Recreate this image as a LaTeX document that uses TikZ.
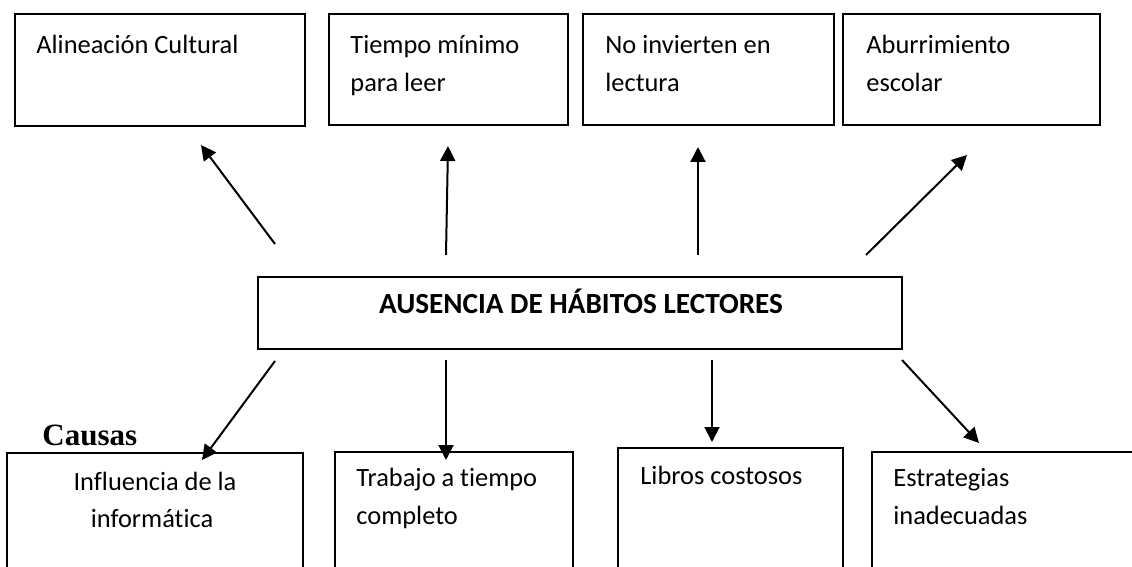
\documentclass[tikz,border=0pt]{standalone}
\usepackage{fontspec}
\setmainfont[Ligatures=NoCommon]{Carlito}
\newfontfamily\timesf{Liberation Serif}
\usetikzlibrary{arrows.meta,fit}
\begin{document}
\begin{tikzpicture}[x=0.5pt,y=-0.5pt,
  box/.style={draw=black,line width=0.8pt,rectangle,inner sep=0pt},
  txt/.style={inner sep=0pt,font=\fontsize{13.2}{16}\selectfont},
  arr/.style={line width=1pt,-{Triangle[length=7.5pt,width=7.5pt]}}]
\useasboundingbox (0,0) rectangle (1132,567);
\clip (0,0) rectangle (1132,567);
\fill[white] (0,0) rectangle (1132,567);
% top boxes
\node[box,fit={(15,14)(305,126)}] (t1) {};
\node[box,fit={(329,14)(568,125)}] (t2) {};
\node[box,fit={(583,14)(834,125)}] (t3) {};
\node[box,fit={(843,14)(1100,125)}] (t4) {};
\node[txt,anchor=base west] (t1a) at (36,54) {Alineación Cultural};
\node[txt,anchor=base west] (t2a) at (350,54) {Tiempo mínimo};
\node[txt,anchor=base west] (t2b) at (350,92) {para leer};
\node[txt,anchor=base west] (t3a) at (605,54) {No invierten en};
\node[txt,anchor=base west] (t3b) at (605,92) {lectura};
\node[txt,anchor=base west] (t4a) at (866,54) {Aburrimiento};
\node[txt,anchor=base west] (t4b) at (866,92) {escolar};
% centre
\node[box,fit={(258,277)(902,349)}] (c) {};
\node[inner sep=0pt,anchor=base,font=\fontsize{14.6}{17}\selectfont\bfseries] (ct) at (581,314) {AUSENCIA DE HÁBITOS LECTORES};
% bottom boxes
\node[box,fit={(7,453)(303,600)}] (b1) {};
\node[box,fit={(335,452)(573,600)}] (b2) {};
\node[box,fit={(618,448)(843,600)}] (b3) {};
\node[box,fit={(872,452)(1140,600)}] (b4) {};
\node[txt,anchor=base] (b1a) at (155,490) {Influencia de la};
\node[txt,anchor=base] (b1b) at (152,527) {informática};
\node[txt,anchor=base west] (b2a) at (356,487) {Trabajo a tiempo};
\node[txt,anchor=base west] (b2b) at (356,524) {completo};
\node[txt,anchor=base west] (b3a) at (640,484) {Libros costosos};
\node[txt,anchor=base west] (b4a) at (893,487) {Estrategias};
\node[txt,anchor=base west] (b4b) at (893,524) {inadecuadas};
\node[inner sep=0pt,anchor=base west,font=\timesf\fontsize{15.5}{18}\selectfont\bfseries] (causas) at (42,445) {Causas};
% arrow end points
\coordinate (a1s) at (275,244); \coordinate (a1e) at (201,145);
\coordinate (a2s) at (446,255); \coordinate (a2e) at (448,146);
\coordinate (a3s) at (698,255); \coordinate (a3e) at (698,147);
\coordinate (a4s) at (866,255); \coordinate (a4e) at (967,155);
\coordinate (d1s) at (275,361); \coordinate (d1e) at (202,460);
\coordinate (d2s) at (446,360); \coordinate (d2e) at (446,460);
\coordinate (d3s) at (712,360); \coordinate (d3e) at (712,442);
\coordinate (d4s) at (902,360); \coordinate (d4e) at (979,443);
\foreach \n in {a1,a2,a3,a4,d1,d2,d3,d4}
  \draw[arr] (\n s) -- (\n e);
\end{tikzpicture}
\end{document}
